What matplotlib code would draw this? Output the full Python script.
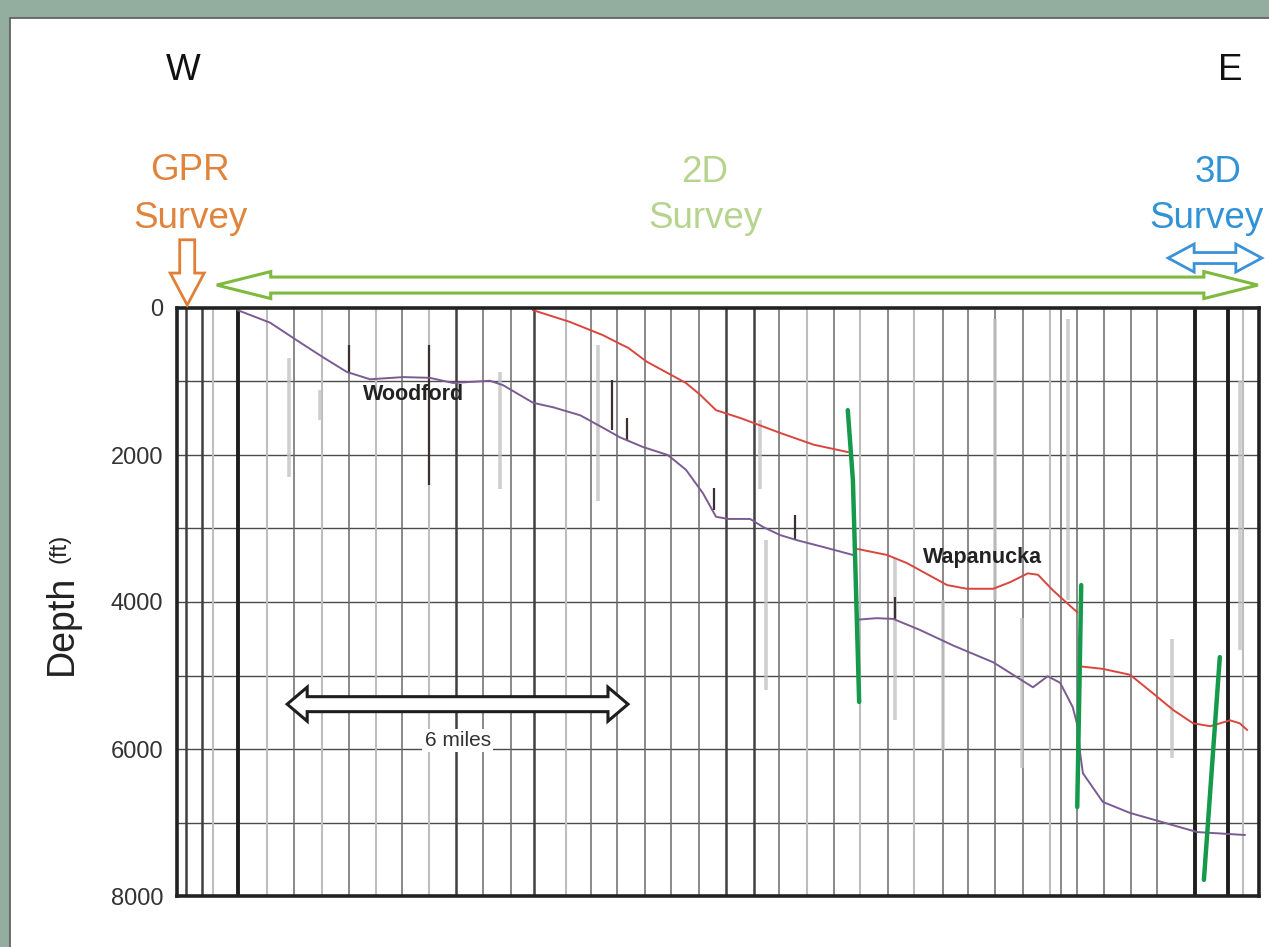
import numpy as np
import matplotlib
matplotlib.use("Agg")
import matplotlib.pyplot as plt
from matplotlib.patches import Polygon, Rectangle

plt.rcParams['font.family'] = ['Liberation Sans', 'DejaVu Sans']

# ---- data (x in miles from the west edge, depth in ft) ----
depth_ticks = [0, 2000, 4000, 6000, 8000]
grid_depths = [1000, 2000, 3000, 4000, 5000, 6000, 7000]

# well locations and line weight (3 = heavy, 2 = dark, 1 = medium, 0 = faint)
well_x = [0.16, 0.44, 0.63, 1.07, 1.58, 2.06, 2.55, 3.03, 3.50, 3.96, 4.44, 4.91,
          5.39, 5.88, 6.29, 6.85, 7.29, 7.75, 8.24, 8.70, 9.19, 9.67, 10.16, 10.60,
          11.09, 11.57, 12.02, 12.52, 12.98, 13.49, 13.93, 14.40, 14.89, 15.37, 15.56,
          15.85, 16.32, 16.80, 17.25, 17.92, 18.50, 18.77]
well_w = [2, 2, 0, 3, 0, 1, 0, 1, 0, 1, 0, 2,
          1, 1, 2, 0, 1, 1, 1, 1, 1, 2, 2, 1,
          0, 1, 0, 1, 0, 1, 1, 1, 1, 0, 1,
          1, 1, 1, 1, 3, 3, 0]

# faint log traces
trace_x = [1.98, 2.52, 5.69, 7.41, 10.26, 10.37, 12.64, 13.49, 14.40, 14.88, 15.69, 17.52, 18.71]
trace_top = [680, 1120, 870, 500, 1520, 3160, 3400, 3970, 150, 4220, 150, 4500, 1000]
trace_bot = [2300, 1520, 2460, 2620, 2460, 5200, 5600, 6010, 3970, 6260, 3970, 6120, 4650]

# formation picks on wells
pick_x = [3.03, 4.44, 7.66, 7.92, 9.45, 10.88, 12.64]
pick_top = [500, 500, 980, 1500, 2450, 2820, 3930]
pick_bot = [870, 2410, 1660, 1800, 2750, 3160, 4240]

# Woodford horizon
wood1_x = [1.07, 1.64, 2.11, 2.57, 2.99, 3.40, 3.98, 4.45, 4.86, 5.51, 5.74, 6.27, 6.62,
           7.10, 7.50, 7.80, 8.20, 8.64, 8.96, 9.26, 9.49, 9.70, 10.09, 10.32, 10.62,
           10.92, 11.37, 11.90]
wood1_d = [30, 200, 440, 670, 870, 970, 940, 950, 1020, 990, 1050, 1290, 1350,
           1460, 1630, 1760, 1890, 2000, 2200, 2520, 2840, 2870, 2870, 2980, 3090,
           3160, 3250, 3360]
wood2_x = [11.99, 12.32, 12.61, 13.08, 13.66, 14.37, 15.07, 15.33, 15.55, 15.77, 15.86,
           15.90, 15.95, 16.30, 16.78, 17.96, 18.80]
wood2_d = [4240, 4220, 4230, 4380, 4590, 4820, 5160, 5010, 5100, 5430, 5700,
           6050, 6330, 6720, 6870, 7130, 7170]

# Wapanucka horizon
wap1_x = [6.27, 6.92, 7.50, 7.83, 7.94, 8.27, 8.96, 9.21, 9.49, 9.93, 10.62, 11.21, 11.81]
wap1_d = [30, 190, 370, 500, 540, 730, 1020, 1180, 1390, 1500, 1700, 1860, 1960]
wap2_x = [11.99, 12.50, 12.85, 13.56, 13.91, 14.37, 14.67, 14.98, 15.16, 15.42, 15.85]
wap2_d = [3280, 3360, 3470, 3770, 3820, 3820, 3730, 3610, 3630, 3840, 4140]
wap3_x = [15.95, 16.30, 16.78, 17.18, 17.54, 17.89, 18.19, 18.54, 18.71, 18.84]
wap3_d = [4880, 4910, 4990, 5240, 5470, 5650, 5690, 5610, 5650, 5740]

# faults
faults_x = [[11.81, 11.90, 11.94, 12.01], [15.92, 15.85], [18.36, 18.08]]
faults_d = [[1390, 2340, 3430, 5360], [3770, 6790], [4750, 7780]]

# survey extents (miles)
gpr_x = 0.18
survey_2d = [0.70, 19.03]
survey_3d = [17.45, 19.10]
scale_bar = [1.94, 7.94]   # 6 miles
scale_depth = 5390

W, H = 1269, 947
fig = plt.figure(figsize=(W / 100, H / 100), dpi=100, facecolor='#93ad9e')
fig.add_artist(Rectangle((10 / W, -0.01), 1.0, 1 - 18 / H + 0.01, transform=fig.transFigure,
                         facecolor='white', edgecolor='#5a5a5a', lw=1.2, zorder=0))


def fp(x, y):
    return x / W, 1 - y / H


ax = fig.add_axes([177 / W, (H - 896) / H, (1259 - 177) / W, (896 - 308) / H])
ax.set_xlim(0, 19.05)
ax.set_ylim(8000, 0)
ax.set_facecolor('white')

for d in grid_depths:
    ax.axhline(d, color='#4a4a4a', lw=1.0, zorder=1)

styles = {3: ('#1e1e1e', 2.8), 2: ('#404040', 1.8), 1: ('#6a6a6a', 1.1), 0: ('#bdbdbd', 1.5)}
for x, w in zip(well_x, well_w):
    c, lw = styles[w]
    ax.axvline(x, color=c, lw=lw, zorder=2)

for x, t, b in zip(trace_x, trace_top, trace_bot):
    ax.plot([x, x], [t, b], color='#c4c4c4', lw=2.6, alpha=0.8, zorder=2, solid_capstyle='butt')
for x, t, b in zip(pick_x, pick_top, pick_bot):
    ax.plot([x, x], [t, b], color='#3a3030', lw=1.6, zorder=3, solid_capstyle='butt')

purple = '#7a5c92'
red = '#d9463f'
ax.plot(wood1_x, wood1_d, color=purple, lw=1.4, zorder=4)
ax.plot(wood2_x, wood2_d, color=purple, lw=1.4, zorder=4)
ax.plot(wap1_x, wap1_d, color=red, lw=1.4, zorder=4)
ax.plot(wap2_x, wap2_d, color=red, lw=1.4, zorder=4)
ax.plot(wap3_x, wap3_d, color=red, lw=1.4, zorder=4)
for fx, fd in zip(faults_x, faults_d):
    ax.plot(fx, fd, color='#159a4c', lw=3.2, zorder=5, solid_capstyle='round')

ax.text(4.16, 1180, 'Woodford', fontsize=15.5, fontweight='bold', color='#222222',
        ha='center', va='center', zorder=6)
ax.text(14.19, 3390, 'Wapanucka', fontsize=15.5, fontweight='bold', color='#222222',
        ha='center', va='center', zorder=6)
ax.text(sum(scale_bar) / 2, 5880, '6 miles', fontsize=15, color='#333333', ha='center',
        va='center', zorder=6, bbox=dict(facecolor='white', edgecolor='none', pad=1.5))

ax.set_xticks([])
ax.set_yticks(depth_ticks)
ax.set_yticklabels([str(d) for d in depth_ticks])
ax.tick_params(axis='y', length=0, pad=10, labelsize=17, labelcolor='#333333')
for s in ax.spines.values():
    s.set_linewidth(2.6)
    s.set_color('#222222')
    s.set_zorder(7)


def to_fig(pts):
    return fig.transFigure.inverted().transform(np.array(pts))


def harrow(x0, x1, yc, shaft, head, hl, color, lw):
    # hollow double-headed arrow, display pixel coords
    pts = [(x0, yc), (x0 + hl, yc + head), (x0 + hl, yc + shaft), (x1 - hl, yc + shaft),
           (x1 - hl, yc + head), (x1, yc), (x1 - hl, yc - head), (x1 - hl, yc - shaft),
           (x0 + hl, yc - shaft), (x0 + hl, yc - head)]
    fig.add_artist(Polygon(to_fig(pts), closed=True, transform=fig.transFigure,
                           facecolor='white', edgecolor=color, lw=lw, zorder=8,
                           joinstyle='miter'))


def varrow(xc, ytop, ytip, shaft, head, hl, color, lw):
    pts = [(xc - shaft, ytop), (xc + shaft, ytop), (xc + shaft, ytip + hl), (xc + head, ytip + hl),
           (xc, ytip), (xc - head, ytip + hl), (xc - shaft, ytip + hl)]
    fig.add_artist(Polygon(to_fig(pts), closed=True, transform=fig.transFigure,
                           facecolor='white', edgecolor=color, lw=lw, zorder=8,
                           joinstyle='miter'))


def dx(x):
    return ax.transData.transform((x, 0))[0]


def ay(f):
    return ax.transAxes.transform((0, f))[1]


harrow(dx(survey_2d[0]), dx(survey_2d[1]), ay(1.039), 8, 13.5, 54, '#7dba3e', 2.2)
harrow(dx(survey_3d[0]), dx(survey_3d[1]), ay(1.085), 5.5, 14, 26, '#3a92d8', 2.0)
varrow(dx(gpr_x), ay(1.116), ay(1.005), 7.5, 17, 32, '#e07f35', 2.0)
ys = ax.transData.transform((0, scale_depth))[1]
harrow(dx(scale_bar[0]), dx(scale_bar[1]), ys, 7.5, 17, 20, '#1e1e1e', 2.2)

big = 26.5
fig.text(*fp(183, 70), 'W', fontsize=big, color='#111111', ha='center', va='center')
fig.text(*fp(1230, 70), 'E', fontsize=big, color='#111111', ha='center', va='center')
fig.text(*fp(190, 170), 'GPR', fontsize=big, color='#e0843c', ha='center', va='center')
fig.text(*fp(190, 218), 'Survey', fontsize=big, color='#e0843c', ha='center', va='center')
fig.text(*fp(705, 172), '2D', fontsize=big, color='#b7d48f', ha='center', va='center')
fig.text(*fp(705, 218), 'Survey', fontsize=big, color='#b7d48f', ha='center', va='center')
fig.text(*fp(1218, 172), '3D', fontsize=big, color='#2f93d6', ha='center', va='center')
fig.text(*fp(1264, 218), 'Survey', fontsize=big, color='#2f93d6', ha='right', va='center')
fig.text(*fp(62, 625), 'Depth', fontsize=27, color='#222222', rotation=90, ha='center', va='center')
fig.text(*fp(60, 548), '(ft)', fontsize=17, color='#222222', rotation=90, ha='center', va='center')

fig.savefig('out.png', dpi=100, facecolor=fig.get_facecolor())
